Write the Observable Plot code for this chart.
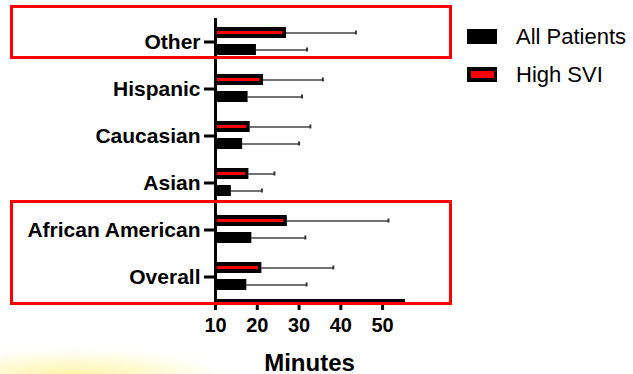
<!DOCTYPE html>
<html>
<head>
<meta charset="utf-8">
<script src="https://cdn.jsdelivr.net/npm/d3@7"></script>
<script src="https://cdn.jsdelivr.net/npm/@observablehq/plot@0.6"></script>
<style>
  html, body { margin: 0; padding: 0; background: #fff; }
  #wrap { position: relative; width: 633px; height: 374px; overflow: hidden;
          font-family: "Liberation Sans", Arial, sans-serif; color: #000; }
  #chart { position: absolute; left: 0; top: 0; }
  #chart svg { font-family: "Liberation Sans", Arial, sans-serif; }
  #chart g[aria-label="fy-axis tick label"] text { font-size: 21px; font-weight: bold; }
  #chart g[aria-label="x-axis tick label"] text { font-size: 20px; font-weight: bold; }
  #chart g[aria-label="x-axis label"] text { font-size: 24px; font-weight: bold; }
  .glow { position: absolute; left: -30px; top: 350px; width: 260px; height: 44px;
          background: radial-gradient(ellipse at 40% 85%, rgba(255,236,100,0.8) 0%, rgba(255,244,160,0.5) 45%, rgba(255,255,255,0) 75%);
          filter: blur(3px); }
  .legend { position: absolute; left: 467px; top: 29px; font-size: 22px; }
  .legend .item { display: flex; align-items: center; height: 15px; margin-bottom: 23px; }
  .legend .sw { width: 30px; height: 15px; box-sizing: border-box; background: #000; margin-right: 19px; }
  .legend .sw.high { border: 4px solid #000; border-right-width: 3px; background: #ff0000; }
  .hl { position: absolute; border: 3px solid #ff0000; box-sizing: border-box; pointer-events: none; }
</style>
</head>
<body>
<div id="wrap">
  <div class="glow"></div>
  <div id="chart"></div>
</div>
<script>
// Time in minutes by patient group: mean bar and upper error whisker
const categories = ["Other", "Hispanic", "Caucasian", "Asian", "African American", "Overall"];
const groups = ["High SVI", "All Patients"];
const allPatientsMean = [19.8, 17.8, 16.5, 13.8, 18.7, 17.5];
const allPatientsUpper = [31.9, 30.7, 30.0, 21.1, 31.5, 31.8];
const highSviMean = [27.0, 21.5, 18.3, 18.0, 27.2, 21.1];
const highSviUpper = [43.6, 35.7, 32.7, 24.1, 51.4, 38.2];
const xTicks = [10, 20, 30, 40, 50];
const xDomain = [10, 55];
// groups outlined with a red box
const highlighted = [["Other"], ["African American", "Overall"]];

const rows = categories.flatMap((cat, i) => [
  {cat, group: "High SVI", mean: highSviMean[i], upper: highSviUpper[i]},
  {cat, group: "All Patients", mean: allPatientsMean[i], upper: allPatientsUpper[i]}
]);
const high = rows.filter(d => d.group === "High SVI");

const chart = Plot.plot({
  width: 633,
  height: 374,
  marginLeft: 215,
  marginRight: 230,
  marginTop: 17,
  marginBottom: 73,
  style: {background: "transparent", color: "#000"},
  x: {domain: xDomain},
  y: {domain: groups, paddingInner: 0.33, paddingOuter: 0.48, axis: null},
  fy: {domain: categories, padding: 0},
  marks: [
    // whiskers from the bar end to the upper value, with an end cap
    Plot.ruleY(rows, {x1: "mean", x2: "upper", y: "group", fy: "cat", stroke: "#444", strokeWidth: 1.5}),
    Plot.tickX(rows, {x: "upper", y: "group", fy: "cat", stroke: "#333", strokeWidth: 2, insetTop: 3.5, insetBottom: 3.5}),
    // bars
    Plot.barX(rows, {x1: xDomain[0], x2: "mean", y: "group", fy: "cat", fill: "#000"}),
    Plot.barX(high, {x1: xDomain[0], x2: "mean", y: "group", fy: "cat", fill: "#ff0000",
      insetTop: 4, insetBottom: 4, insetLeft: 2, insetRight: 3.5}),
    // axis lines
    Plot.ruleX([xDomain[0]], {stroke: "#000", strokeWidth: 3}),
    Plot.frame({anchor: "bottom", facetAnchor: "bottom", stroke: "#000", strokeWidth: 3}),
    Plot.axisFy({anchor: "left", label: null, tickSize: 11, tickPadding: 4, strokeWidth: 3,
      fontSize: 21, fontWeight: "bold"}),
    Plot.axisX({ticks: xTicks, tickSize: 10, tickPadding: 7, strokeWidth: 3,
      fontSize: 20, fontWeight: "bold", label: "Minutes", labelAnchor: "center",
      labelArrow: "none", labelOffset: 70})
  ]
});

const wrap = document.getElementById("wrap");
document.getElementById("chart").appendChild(chart);

// red outline boxes around highlighted categories, placed from the fy scale
const fy = chart.scale("fy");
const bw = fy.bandwidth;
highlighted.forEach((cats, k) => {
  const top = fy.apply(cats[0]);
  const bottom = fy.apply(cats[cats.length - 1]) + bw;
  const box = document.createElement("div");
  box.className = "hl";
  const padTop = k === 0 ? 13 : 6;
  const padBottom = k === 0 ? -6 : 5;
  box.style.left = "10px";
  box.style.width = "442px";
  box.style.top = (top - padTop) + "px";
  box.style.height = (bottom - top + padTop + padBottom) + "px";
  wrap.appendChild(box);
});

// legend
const legend = document.createElement("div");
legend.className = "legend";
legend.innerHTML = groups.slice().reverse().map(g =>
  `<div class="item"><span class="sw${g === "High SVI" ? " high" : ""}"></span><span>${g}</span></div>`
).join("");
wrap.appendChild(legend);
</script>
</body>
</html>
